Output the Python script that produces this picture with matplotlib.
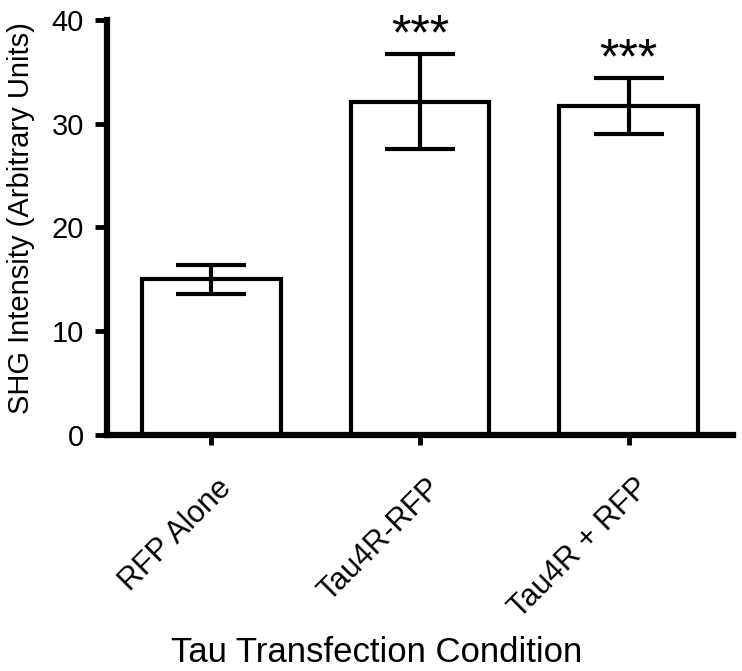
import numpy as np
import matplotlib.pyplot as plt
import matplotlib.transforms as mtransforms

plt.rcParams['font.family'] = ['Liberation Sans', 'DejaVu Sans']

# data
conditions = ['RFP Alone', 'Tau4R-RFP', 'Tau4R + RFP']
means = [15.0, 32.1, 31.7]
err_lo = [1.4, 4.5, 2.7]
err_hi = [1.4, 4.6, 2.7]
stars = ['', '***', '***']

fig = plt.figure(figsize=(7.42, 6.71), dpi=100)
ax = fig.add_axes([0.144, 0.352, 0.844, 0.618])

x = np.arange(len(conditions))
ax.bar(x, means, width=0.665, color='white', edgecolor='black', linewidth=3, zorder=2)
ax.errorbar(x, means, yerr=[err_lo, err_hi], fmt='none', ecolor='black',
            elinewidth=3, capsize=25, capthick=3, zorder=3)

# significance marks just above the caps
for i in range(len(x)):
    if stars[i]:
        ax.text(x[i], means[i] + err_hi[i] + 0.5, stars[i], ha='center', va='baseline',
                fontsize=36)

ax.set_xlim(-0.5, 2.5)
ax.set_ylim(0, 40)
ax.set_yticks([0, 10, 20, 30, 40])
ax.set_xticks(x)
ax.set_xticklabels(conditions, rotation=45, ha='right', va='center',
                   rotation_mode='anchor', fontsize=22)
ax.tick_params(axis='y', labelsize=21, width=3.5, length=8.5, direction='out', pad=8)
ax.tick_params(axis='x', width=3.5, length=7, direction='out', pad=28)

# nudge the rotated labels a little to the right
shift = mtransforms.ScaledTranslation(16 / 100, 0, fig.dpi_scale_trans)
for lab in ax.get_xticklabels():
    lab.set_transform(lab.get_transform() + shift)

for s in ['top', 'right']:
    ax.spines[s].set_visible(False)
for s in ['left', 'bottom']:
    ax.spines[s].set_linewidth(4.5)

fig.text(21.5 / 742, 1 - 218 / 671, 'SHG Intensity (Arbitrary Units)', rotation=90,
         ha='center', va='center', fontsize=21)
fig.text(377 / 742, 1 - 662 / 671, 'Tau Transfection Condition', ha='center',
         va='baseline', fontsize=25)

fig.savefig('out.png', dpi=100)
